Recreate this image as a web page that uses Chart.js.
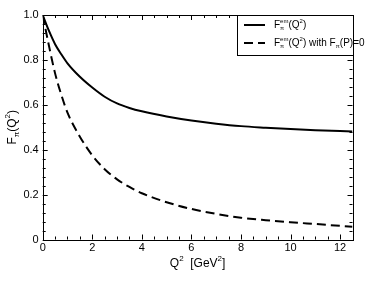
<!DOCTYPE html>
<html>
<head>
<meta charset="utf-8">
<script src="https://cdn.jsdelivr.net/npm/chart.js@4.4.0/dist/chart.umd.min.js"></script>
<style>
  body { margin: 0; background: #fff; }
  canvas { display: block; }
</style>
</head>
<body>
<canvas id="myChart" width="366" height="283"></canvas>
<script>
// values
const qsq = [0, 0.25, 0.5, 0.75, 1, 1.5, 2, 2.5, 3, 3.5, 4, 5, 6, 7, 8, 9, 10, 11, 12, 12.5];
const ffFull = [1, 0.93, 0.87, 0.825, 0.785, 0.725, 0.677, 0.636, 0.606, 0.586, 0.571, 0.548, 0.53, 0.516, 0.505, 0.498, 0.492, 0.487, 0.483, 0.481];
const ffNoP = [1, 0.864, 0.74, 0.645, 0.565, 0.458, 0.375, 0.313, 0.268, 0.234, 0.206, 0.166, 0.136, 0.114, 0.097, 0.086, 0.077, 0.069, 0.061, 0.057];
const xTicks = [0, 2, 4, 6, 8, 10, 12];
const yTicks = [0, 0.2, 0.4, 0.6, 0.8, 1];

const FONT = '"Liberation Sans", Arial, Helvetica, sans-serif';

function pts(ys) {
    return qsq.map((q, i) => ({ x: q, y: ys[i] }));
}

// text made of pieces with sub/superscripts
function richWidth(ctx, parts) {
    let w = 0;
    parts.forEach(p => {
        ctx.font = p.size + 'px ' + FONT;
        w += ctx.measureText(p.t).width;
    });
    return w;
}
function drawRich(ctx, parts, x, y) {
    ctx.textBaseline = 'middle';
    ctx.textAlign = 'left';
    parts.forEach(p => {
        ctx.font = p.size + 'px ' + FONT;
        ctx.fillText(p.t, x, y + (p.dy || 0));
        if (p.under) {
            // subscript stacked below a superscript
            ctx.font = p.under.size + 'px ' + FONT;
            ctx.fillText(p.under.t, x, y + p.under.dy);
            ctx.font = p.size + 'px ' + FONT;
        }
        x += ctx.measureText(p.t).width;
    });
}

const framePlugin = {
    id: 'frame',
    afterDraw(chart) {
        const ctx = chart.ctx;
        const a = chart.chartArea;
        const xs = chart.scales.x, ys = chart.scales.y;
        ctx.save();
        ctx.strokeStyle = '#000';
        ctx.fillStyle = '#000';
        ctx.lineWidth = 1;

        // box
        ctx.strokeRect(Math.round(a.left) + 0.5, Math.round(a.top) + 0.5,
            Math.round(a.right - a.left), Math.round(a.bottom - a.top));

        // inward ticks on all four sides
        ctx.beginPath();
        for (let i = 0; i <= 25; i++) {
            const v = i * 0.5;
            const px = Math.round(xs.getPixelForValue(v)) + 0.5;
            const len = (i % 4 === 0) ? 5 : 3;
            ctx.moveTo(px, a.bottom); ctx.lineTo(px, a.bottom - len);
            ctx.moveTo(px, a.top); ctx.lineTo(px, a.top + len);
        }
        for (let i = 0; i <= 25; i++) {
            const v = i * 0.04;
            const py = Math.round(ys.getPixelForValue(v)) + 0.5;
            const len = (i % 5 === 0) ? 5 : 3;
            ctx.moveTo(a.left, py); ctx.lineTo(a.left + len, py);
            ctx.moveTo(a.right, py); ctx.lineTo(a.right - len, py);
        }
        ctx.stroke();

        // y title  F_pi(Q^2)
        const yParts = [
            { t: 'F', size: 12 },
            { t: 'π', size: 8, dy: 4 },
            { t: '(Q', size: 12 },
            { t: '2', size: 8, dy: -5 },
            { t: ')', size: 12 }
        ];
        ctx.save();
        ctx.translate(13, (a.top + a.bottom) / 2);
        ctx.rotate(-Math.PI / 2);
        drawRich(ctx, yParts, -richWidth(ctx, yParts) / 2, 0);
        ctx.restore();

        // x title  Q^2 [GeV^2]
        const xParts = [
            { t: 'Q', size: 12 },
            { t: '2', size: 8, dy: -5 },
            { t: '  [GeV', size: 12 },
            { t: '2', size: 8, dy: -5 },
            { t: ']', size: 12 }
        ];
        drawRich(ctx, xParts, (a.left + a.right) / 2 - richWidth(ctx, xParts) / 2, 264);

        // legend box in the top right corner
        const lx = 237, ly = Math.round(a.top);
        ctx.fillStyle = '#fff';
        ctx.fillRect(lx + 0.5, ly + 0.5, Math.round(a.right) - lx, 40);
        ctx.strokeRect(lx + 0.5, ly + 0.5, Math.round(a.right) - lx, 40);
        ctx.fillStyle = '#000';
        const em = { t: 'em', size: 6, dy: -4, under: { t: 'π', size: 6, dy: 3 } };
        const rows = [
            { y: ly + 10, ds: chart.data.datasets[0], parts: [
                { t: 'F', size: 10 }, em,
                { t: '(Q', size: 10 }, { t: '2', size: 6, dy: -4 }, { t: ')', size: 10 }
            ] },
            { y: ly + 28, ds: chart.data.datasets[1], parts: [
                { t: 'F', size: 10 }, em,
                { t: '(Q', size: 10 }, { t: '2', size: 6, dy: -4 },
                { t: ') with F', size: 10 }, { t: 'π', size: 6, dy: 3 }, { t: '(P)=0', size: 10 }
            ] }
        ];
        rows.forEach(r => {
            ctx.save();
            ctx.lineWidth = r.ds.borderWidth;
            ctx.setLineDash(r.ds.borderDash || []);
            ctx.beginPath();
            ctx.moveTo(244, r.y);
            ctx.lineTo(265, r.y);
            ctx.stroke();
            ctx.restore();
            drawRich(ctx, r.parts, 274, r.y);
        });
        ctx.restore();
    }
};

const ctx = document.getElementById('myChart').getContext('2d');
new Chart(ctx, {
    type: 'line',
    data: {
        datasets: [{
            label: 'F_pi^em(Q^2)',
            data: pts(ffFull),
            borderColor: '#000',
            borderWidth: 2,
            pointRadius: 0,
            fill: false,
            cubicInterpolationMode: 'monotone'
        }, {
            label: 'F_pi^em(Q^2) with F_pi(P)=0',
            data: pts(ffNoP),
            borderColor: '#000',
            borderWidth: 2,
            borderDash: [9, 5],
            pointRadius: 0,
            fill: false,
            cubicInterpolationMode: 'monotone'
        }]
    },
    options: {
        responsive: false,
        animation: false,
        layout: { padding: { left: 0, right: 13.5, top: 15, bottom: 0 } },
        plugins: {
            legend: { display: false },
            tooltip: { enabled: false }
        },
        scales: {
            x: {
                type: 'linear',
                min: 0,
                max: 12.5,
                grid: { display: false, drawTicks: false },
                border: { display: false },
                afterFit(s) { s.height = 43.5; },
                afterBuildTicks(s) { s.ticks = xTicks.map(v => ({ value: v })); },
                ticks: {
                    color: '#000',
                    padding: 2,
                    maxRotation: 0,
                    font: { family: FONT, size: 11 }
                }
            },
            y: {
                min: 0,
                max: 1,
                grid: { display: false, drawTicks: false },
                border: { display: false },
                afterFit(s) { s.width = 42.7; },
                afterBuildTicks(s) { s.ticks = yTicks.map(v => ({ value: v })); },
                ticks: {
                    color: '#000',
                    padding: 4,
                    font: { family: FONT, size: 11 }
                }
            }
        }
    },
    plugins: [framePlugin]
});
</script>
</body>
</html>
